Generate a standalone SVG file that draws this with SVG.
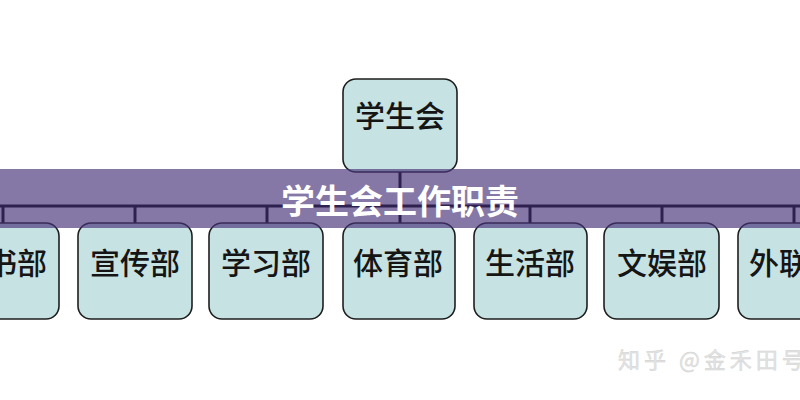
<svg xmlns="http://www.w3.org/2000/svg" width="800" height="400" viewBox="0 0 800 400">
<style>
.box{fill:#c6e2e2;stroke:#1e1e1e;stroke-width:1.6}
.lbl{font-family:"Noto Sans CJK SC","Noto Sans",sans-serif;font-size:30px;fill:#151515;text-anchor:middle;font-weight:500}
.con{stroke:#000;stroke-width:3;fill:none}
</style>
<rect x="0" y="0" width="800" height="400" fill="#ffffff"/>
<g id="connectors">
<line class="con" x1="400" y1="172" x2="400" y2="223"/>
<line class="con" x1="0" y1="206" x2="800" y2="206"/>
<line class="con" x1="3" y1="206" x2="3" y2="223"/>
<line class="con" x1="135" y1="206" x2="135" y2="223"/>
<line class="con" x1="267" y1="206" x2="267" y2="223"/>
<line class="con" x1="530" y1="206" x2="530" y2="223"/>
<line class="con" x1="662" y1="206" x2="662" y2="223"/>
<line class="con" x1="794" y1="206" x2="794" y2="223"/>
</g>
<g id="n-top"><rect class="box" x="343" y="79" width="114" height="93" rx="13"/><text class="lbl" x="400" y="127">学生会</text></g>
<g id="n-mishu"><rect class="box" x="-55" y="223" width="114" height="96" rx="13"/><text class="lbl" x="2" y="274">秘书部</text></g>
<g id="n-xuanchuan"><rect class="box" x="78" y="223" width="114" height="96" rx="13"/><text class="lbl" x="135" y="274">宣传部</text></g>
<g id="n-xuexi"><rect class="box" x="209" y="223" width="114" height="96" rx="13"/><text class="lbl" x="266" y="274">学习部</text></g>
<g id="n-tiyu"><rect class="box" x="343" y="223" width="112" height="96" rx="13"/><text class="lbl" x="398" y="274">体育部</text></g>
<g id="n-shenghuo"><rect class="box" x="474" y="223" width="113" height="96" rx="13"/><text class="lbl" x="530" y="274">生活部</text></g>
<g id="n-wenyu"><rect class="box" x="604" y="223" width="115" height="96" rx="13"/><text class="lbl" x="662" y="274">文娱部</text></g>
<g id="n-wailian"><rect class="box" x="738" y="223" width="114" height="96" rx="13"/><text class="lbl" x="794" y="274">外联部</text></g>
<g id="banner">
<rect x="0" y="169" width="800" height="59" fill="rgb(70,50,121)" fill-opacity="0.66"/>
<text x="400" y="214" font-family="'Noto Sans CJK SC','Noto Sans',sans-serif" font-size="34" font-weight="700" fill="#ffffff" text-anchor="middle">学生会工作职责</text>
</g>
<text x="618" y="368" font-family="'Noto Sans CJK SC','Noto Sans',sans-serif" font-size="22" letter-spacing="4" fill="#e4e4e4" stroke="#d0d0d0" stroke-width="0.4">知乎 @金禾田号</text>
</svg>
